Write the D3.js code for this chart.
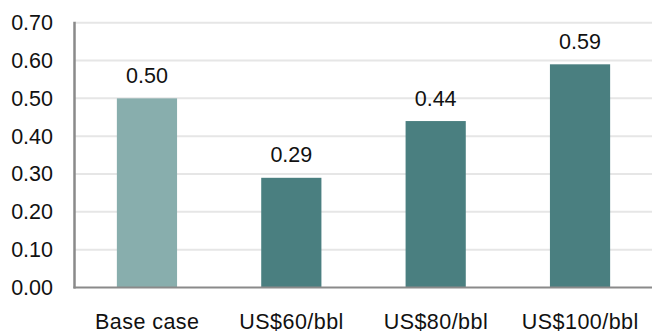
<!DOCTYPE html>
<html>
<head>
<meta charset="utf-8">
<script src="https://cdn.jsdelivr.net/npm/d3@7"></script>
<style>
  html, body { margin: 0; padding: 0; background: #fff; }
  svg { display: block; font-family: "Liberation Sans", Arial, Helvetica, sans-serif; }
</style>
</head>
<body>
<svg id="chart" width="652" height="335"></svg>
<script>
// Scenario values
const categories = ["Base case", "US$60/bbl", "US$80/bbl", "US$100/bbl"];
const values = [0.50, 0.29, 0.44, 0.59];
const barColors = ["#88aead", "#4a7f80", "#4a7f80", "#4a7f80"];
const yTicks = [0, 0.1, 0.2, 0.3, 0.4, 0.5, 0.6, 0.7];

const svg = d3.select("#chart");
const margin = { left: 75, right: 0, top: 23, bottom: 47 };
const width = 652, height = 335;

const x = d3.scaleBand()
  .domain(categories)
  .range([margin.left, width - margin.right])
  .paddingInner(0.583)
  .paddingOuter(0.29);

const y = d3.scaleLinear()
  .domain([0, 0.7])
  .range([height - margin.bottom - 0.5, margin.top - 0.3]);

// Horizontal gridlines
svg.append("g")
  .selectAll("line")
  .data(yTicks.slice(1))
  .join("line")
  .attr("x1", margin.left)
  .attr("x2", width)
  .attr("y1", d => y(d))
  .attr("y2", d => y(d))
  .attr("stroke", "#e6e6e6")
  .attr("stroke-width", 2);

// Y axis tick labels
const yAxis = d3.axisLeft(y)
  .tickValues(yTicks)
  .tickFormat(d3.format(".2f"))
  .tickSize(0)
  .tickPadding(22);
const gy = svg.append("g")
  .attr("transform", `translate(${margin.left},0)`)
  .call(yAxis);
gy.select(".domain").remove();
gy.selectAll("text")
  .attr("font-size", 21.5)
  .attr("fill", "#111")
  .attr("font-family", "Liberation Sans, Arial, sans-serif");

// Bars
svg.append("g")
  .selectAll("rect")
  .data(values)
  .join("rect")
  .attr("x", (d, i) => x(categories[i]))
  .attr("width", x.bandwidth())
  .attr("y", d => y(d))
  .attr("height", d => y(0) - y(d))
  .attr("fill", (d, i) => barColors[i]);

// Value labels
svg.append("g")
  .selectAll("text")
  .data(values)
  .join("text")
  .attr("x", (d, i) => x(categories[i]) + x.bandwidth() / 2)
  .attr("y", d => y(d) - 15.5)
  .attr("text-anchor", "middle")
  .attr("font-size", 21.5)
  .attr("fill", "#111")
  .text(d => d3.format(".2f")(d));

// X axis category labels
const xAxis = d3.axisBottom(x).tickSize(0).tickPadding(0);
const gx = svg.append("g")
  .attr("transform", `translate(0,${y(0)})`)
  .call(xAxis);
gx.select(".domain").remove();
gx.selectAll("text")
  .attr("font-size", 21.5)
  .attr("letter-spacing", 0.45)
  .attr("fill", "#111")
  .attr("font-family", "Liberation Sans, Arial, sans-serif")
  .attr("dy", null)
  .attr("x", 0.25)
  .attr("y", 41.5);

// Axis lines
svg.append("line")
  .attr("x1", margin.left - 0.5)
  .attr("x2", margin.left - 0.5)
  .attr("y1", y(0.7) - 1)
  .attr("y2", y(0) + 1)
  .attr("stroke", "#8a8a8a")
  .attr("stroke-width", 2.5);
svg.append("line")
  .attr("x1", margin.left - 1.5)
  .attr("x2", width)
  .attr("y1", y(0))
  .attr("y2", y(0))
  .attr("stroke", "#8a8a8a")
  .attr("stroke-width", 2);
</script>
</body>
</html>
